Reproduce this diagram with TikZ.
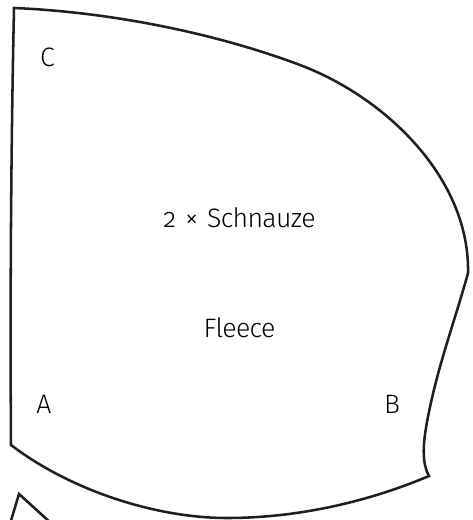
\documentclass[tikz,border=0pt]{standalone}
\usepackage{fontspec}
\setmainfont[Numbers=OldStyle,WordSpace=1.3,LetterSpace=-2.5]{Fira Sans Light}
\tikzset{cutline/.style={draw=black!88,line width=1.9pt,line join=miter},
 lbl/.style={font=\fontsize{20}{24}\selectfont,text=black,inner sep=0pt}}
\begin{document}
\begin{tikzpicture}[x=0.75pt,y=-0.75pt]
\useasboundingbox (0,0) rectangle (473,520);
\path[clip] (0,0) rectangle (473,520);
\draw[cutline] (14,8) .. controls (110,12) and (215,33) .. (300,65)
  .. controls (385,97) and (470,178) .. (468,273)
  .. controls (455,320) and (440,360) .. (430,407)
  .. controls (424,435) and (420,460) .. (429,476)
  .. controls (365,503) and (295,518) .. (227,518)
  .. controls (155,518) and (70,490) .. (11,445)
  .. controls (10,300) and (11,150) .. (14,8) -- cycle;
\draw[cutline] (10,524) -- (19,494) -- (52,524);
\node[lbl] (c) at (47.5,57) {C};
\node[lbl] (t) at (239.5,218) {2 × Schnauze};
\node[lbl] (f) at (239.5,328) {Fleece};
\node[lbl] (a) at (44,404) {A};
\node[lbl] (b) at (392,404) {B};
\end{tikzpicture}
\end{document}
